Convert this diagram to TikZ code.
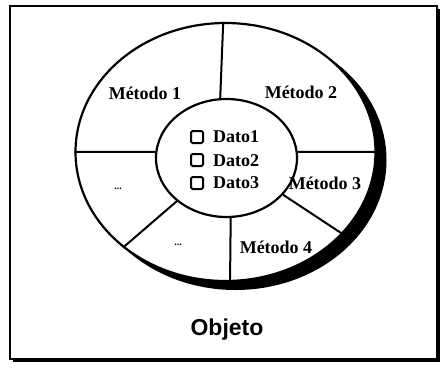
\documentclass[tikz,border=0pt]{standalone}
\usepackage{fontspec}
\setmainfont{Liberation Serif}
\newfontfamily\sansfont{Liberation Sans}
\usetikzlibrary{shapes.geometric}
\begin{document}
\begin{tikzpicture}[
            x = 1pt, y = -1pt, % pixel units, y pointing down
            ring/.style = {ellipse, draw, line width=2.2pt, inner sep=0pt, fill=white},
            part/.style = {line width=2pt}, % dividing lines
            metodo/.style = {font=\bfseries\fontsize{18}{20}\selectfont, inner sep=1pt},
            dato/.style = {font=\bfseries\fontsize{18}{20}\selectfont, anchor=west, inner sep=0pt},
            datobox/.style = {draw, line width=2pt, rounded corners=1.5pt, minimum size=12pt, inner sep=0pt},
        ]
        \useasboundingbox (0,0) rectangle (444,368);
        % frame with shadow
        \fill (13,9) rectangle (440,362);
        \draw[line width=1.8pt, fill=white] (10,6) rectangle (437,359);
        % ellipses
        \node[ellipse, fill, inner sep=0pt, minimum width=302pt, minimum height=260pt] (shadow) at (235.5,160) {};
        \node[ring, minimum width=300pt, minimum height=258pt] (outer) at (225.5,152) {};
        \node[ring, minimum width=141pt, minimum height=118pt] (inner) at (226.5,158) {};
        \draw[part] (inner.96) -- (outer.91.6);
        \draw[part] (inner.175) -- (outer.180);
        \draw[part] (inner.5) -- (outer.-0.8);
        \draw[part] (inner.-33.7) -- (outer.-35.8);
        \draw[part] (inner.-86.5) -- (outer.-88);
        \draw[part] (inner.-139.7) -- (outer.-137.2);
        % methods
        \node[metodo] (m1) at (145,93) {Método 1};
        \node[metodo] (m2) at (301,92) {Método 2};
        \node[metodo] (m3) at (325,183) {Método 3};
        \node[metodo] (m4) at (276,247) {Método 4};
        \node[metodo, font=\bfseries\fontsize{10}{12}\selectfont] (d1) at (118,189) {...};
        \node[metodo, font=\bfseries\fontsize{10}{12}\selectfont] (d2) at (178,245) {...};
        % data
        \node[datobox] (b1) at (197,137) {};
        \node[datobox] (b2) at (197,160) {};
        \node[datobox] (b3) at (197,183) {};
        \node[dato] (t1) at (213,137) {Dato1};
        \node[dato] (t2) at (213,161) {Dato2};
        \node[dato] (t3) at (213,183) {Dato3};
        % caption
        \node[font=\sansfont\bfseries\fontsize{23}{26}\selectfont] (obj) at (227,330) {Objeto};
        \end{tikzpicture}
\end{document}
